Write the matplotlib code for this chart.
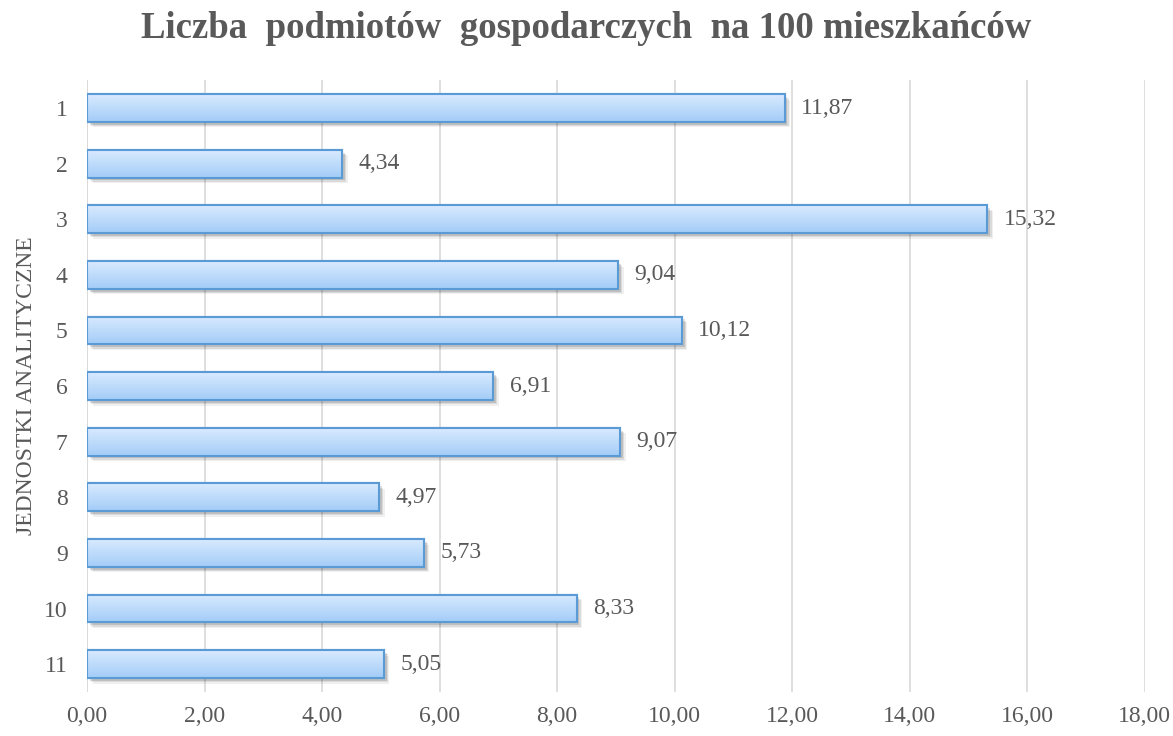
import numpy as np
import matplotlib
matplotlib.use("Agg")
import matplotlib.pyplot as plt
import matplotlib.patheffects as pe
from matplotlib.ticker import FuncFormatter

categories = ["1", "2", "3", "4", "5", "6", "7", "8", "9", "10", "11"]
values = [11.87, 4.34, 15.32, 9.04, 10.12, 6.91, 9.07, 4.97, 5.73, 8.33, 5.05]
title = "Liczba  podmiotów  gospodarczych  na 100 mieszkańców"
ylabel = "JEDNOSTKI ANALITYCZNE"

plt.rcParams['font.family'] = ['Liberation Serif', 'DejaVu Serif']
txt = "#595959"

fig = plt.figure(figsize=(11.73, 7.36), dpi=100)
ax = fig.add_axes([0.0742, 0.0598, 0.9018, 0.8312])

y = np.arange(len(categories))
h = 0.5

shadow = [pe.SimplePatchShadow(offset=(o, -o), shadow_rgbFace="#000000", alpha=a)
          for o, a in [(4, 0.06), (3, 0.09), (2, 0.12)]]
bars = ax.barh(y, values, height=h, facecolor="#c5dcfb", edgecolor="#5b9bd5",
               linewidth=1.5, zorder=3, path_effects=shadow + [pe.Normal()])

grad = np.linspace(0, 1, 100).reshape(-1, 1)
top = np.array([0.85, 0.92, 1.0])
bot = np.array([0.64, 0.80, 0.97])
img = top[None, None, :] * (1 - grad[..., None]) + bot[None, None, :] * grad[..., None]
for b, yi, v in zip(bars, y, values):
    im = ax.imshow(img, extent=(0, v, yi + h / 2, yi - h / 2), aspect='auto',
                   zorder=3.5, interpolation='bilinear')
    im.set_clip_path(b)
    ax.add_patch(plt.Rectangle((0, yi - h / 2), v, h, fill=False,
                               edgecolor="#5b9bd5", linewidth=1.5, zorder=4))
    ax.text(v + 0.28, yi, f"{v:.2f}".replace(".", ","), va="center", ha="left",
            fontsize=17, color=txt, zorder=5)

ax.set_xlim(0, 18)
ax.set_ylim(len(categories) - 0.5, -0.5)
ax.set_xticks(np.arange(0, 19, 2))
ax.xaxis.set_major_formatter(FuncFormatter(lambda x, p: f"{x:.2f}".replace(".", ",")))
ax.set_yticks(y)
ax.set_yticklabels(categories)
ax.tick_params(axis='both', length=0, labelsize=17, colors=txt)
ax.tick_params(axis='y', pad=14)
ax.tick_params(axis='x', pad=10)
ax.grid(axis='x', color="#d9d9d9", linewidth=1.2, zorder=0)
ax.set_axisbelow(True)
for s in ax.spines.values():
    s.set_visible(False)
ax.axvline(0, color="#d9d9d9", linewidth=1.2, zorder=1)

ax.set_ylabel(ylabel, fontsize=17, color=txt, labelpad=5)
fig.suptitle(title, fontsize=26.5, fontweight='bold', color=txt, y=0.985)

fig.savefig("out.png", dpi=100)
